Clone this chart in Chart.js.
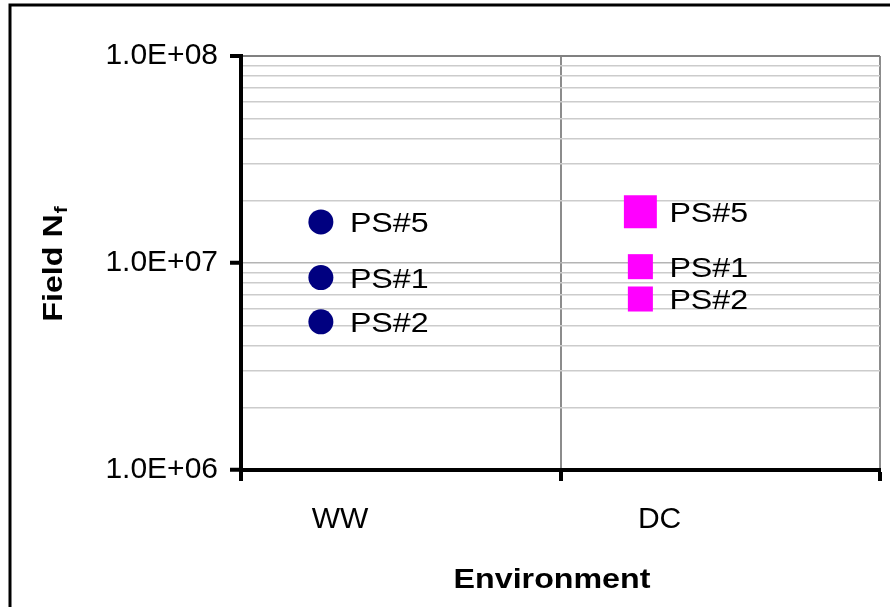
<!DOCTYPE html>
<html>
<head>
<meta charset="utf-8">
<script src="https://cdn.jsdelivr.net/npm/chart.js@4/dist/chart.umd.min.js"></script>
<style>
  html, body { margin: 0; padding: 0; background: #ffffff; }
  canvas { display: block; }
</style>
</head>
<body>
<canvas id="chart" width="890" height="607"></canvas>
<script>
// Field fatigue life per specimen in each environment
const environments = ['WW', 'DC'];
const specimens = ['PS#5', 'PS#1', 'PS#2'];
const fieldLifeWW = [1.58e7, 8.5e6, 5.2e6];
const fieldLifeDC = [1.77e7, 9.6e6, 6.7e6];
const yTickValues = [1e6, 1e7, 1e8];
const yTickLabels = ['1.0E+06', '1.0E+07', '1.0E+08'];
const xTitle = 'Environment';
const yTitle = 'Field N';
const yTitleSub = 'f';

// each environment takes one unit of the x axis
const POINT_SHIFT = 0.25;   // where the markers sit inside their unit
const LABEL_SHIFT = 0.31;   // where the environment name sits
const FONT = '"Liberation Sans", Arial, Helvetica, sans-serif';
const STRETCH = 1.15;       // wide lettering for the drawn captions

const toPoints = (values, i) => values.map(v => ({ x: i + POINT_SHIFT, y: v }));
const isWhole = v => Math.abs(v - Math.round(v)) < 1e-9;
const isDecade = v => yTickValues.some(t => Math.abs(t - v) / t < 1e-9);
const isTop = v => Math.abs(v - yTickValues[yTickValues.length - 1]) / v < 1e-9;

function wideText(ctx, text, x, y, font, align) {
  ctx.save();
  ctx.font = font;
  ctx.translate(x, y);
  ctx.scale(STRETCH, 1);
  ctx.textAlign = align;
  ctx.textBaseline = 'alphabetic';
  ctx.fillText(text, 0, 0);
  ctx.restore();
}

// frame, axis titles and the specimen captions beside each marker
const captions = {
  id: 'captions',
  afterDraw(chart) {
    const ctx = chart.ctx;
    ctx.save();
    ctx.fillStyle = '#000';

    // specimen names to the right of the markers
    chart.data.datasets.forEach((ds, di) => {
      chart.getDatasetMeta(di).data.forEach((pt, i) => {
        wideText(ctx, specimens[i], pt.x + 29, pt.y + 10, '28px ' + FONT, 'left');
      });
    });

    // x title
    wideText(ctx, xTitle, 552, 588, 'bold 28px ' + FONT, 'center');

    // y title with subscript, rotated
    ctx.save();
    ctx.translate(52, 264);
    ctx.rotate(-Math.PI / 2);
    ctx.scale(STRETCH, 1);
    ctx.font = 'bold 28px ' + FONT;
    const w1 = ctx.measureText(yTitle).width;
    ctx.font = 'bold 18px ' + FONT;
    const w2 = ctx.measureText(yTitleSub).width;
    const start = -(w1 + w2 + 1) / 2;
    ctx.textAlign = 'left';
    ctx.textBaseline = 'alphabetic';
    ctx.font = 'bold 28px ' + FONT;
    ctx.fillText(yTitle, start, 10);
    ctx.font = 'bold 18px ' + FONT;
    ctx.fillText(yTitleSub, start + w1 + 1, 15);
    ctx.restore();

    // outer frame
    ctx.lineWidth = 3;
    ctx.strokeStyle = '#000';
    ctx.strokeRect(10, 5, 1000, 1000);
    ctx.restore();
  }
};

new Chart(document.getElementById('chart'), {
  type: 'scatter',
  data: {
    datasets: [
      {
        label: environments[0],
        data: toPoints(fieldLifeWW, 0),
        pointStyle: 'circle',
        pointRadius: 12.5,
        backgroundColor: '#000080',
        borderColor: '#000080',
        borderWidth: 0
      },
      {
        label: environments[1],
        data: toPoints(fieldLifeDC, 1),
        pointStyle: 'rect',
        pointRadius: [23.3, 17.7, 17.7],
        backgroundColor: '#ff00ff',
        borderColor: '#ff00ff',
        borderWidth: 0
      }
    ]
  },
  options: {
    responsive: false,
    animation: false,
    devicePixelRatio: 1,
    events: [],
    layout: { autoPadding: false, padding: { left: 0, top: 56, right: 10, bottom: 0 } },
    plugins: {
      legend: { display: false },
      tooltip: { enabled: false }
    },
    scales: {
      x: {
        type: 'linear',
        position: 'bottom',
        min: 0,
        max: environments.length,
        afterBuildTicks(scale) {
          const t = [];
          for (let i = 0; i <= environments.length; i++) {
            t.push({ value: i });
            if (i < environments.length) t.push({ value: i + LABEL_SHIFT });
          }
          scale.ticks = t;
        },
        afterFit(scale) {
          scale.height = 137;
          scale.paddingLeft = 0;
          scale.paddingRight = 0;
        },
        ticks: {
          autoSkip: false,
          maxRotation: 0,
          minRotation: 0,
          padding: 0,
          color: '#000',
          font: { family: FONT, size: 30, lineHeight: 2.55 },
          callback: v => isWhole(v) ? '' : environments[Math.floor(v)]
        },
        grid: {
          color: c => (c.tick && isWhole(c.tick.value)) ? '#8c8c8c' : 'rgba(0,0,0,0)',
          lineWidth: 2,
          tickLength: 11,
          tickWidth: 4,
          tickColor: c => (c.tick && isWhole(c.tick.value)) ? '#000' : 'rgba(0,0,0,0)'
        },
        border: { color: '#000', width: 4 }
      },
      y: {
        type: 'logarithmic',
        min: yTickValues[0],
        max: yTickValues[yTickValues.length - 1],
        afterBuildTicks(scale) {
          const t = [];
          for (let d = 0; d < yTickValues.length - 1; d++) {
            for (let m = 1; m < 10; m++) t.push({ value: yTickValues[d] * m });
          }
          t.push({ value: yTickValues[yTickValues.length - 1] });
          scale.ticks = t;
        },
        afterFit(scale) {
          scale.width = 241;
          scale.paddingTop = 0;
          scale.paddingBottom = 0;
        },
        ticks: {
          autoSkip: false,
          padding: 12,
          color: '#000',
          font: { family: FONT, size: 30 },
          callback: v => {
            const i = yTickValues.findIndex(t => Math.abs(t - v) / t < 1e-9);
            return i >= 0 ? yTickLabels[i] : '';
          }
        },
        grid: {
          color: c => {
            if (!c.tick) return '#cccccc';
            if (isTop(c.tick.value)) return '#808080';
            return isDecade(c.tick.value) ? '#b4b4b4' : '#cccccc';
          },
          lineWidth: c => (c.tick && isTop(c.tick.value)) ? 2 : 1.5,
          tickLength: 11,
          tickWidth: 4,
          tickColor: c => (c.tick && isDecade(c.tick.value)) ? '#000' : 'rgba(0,0,0,0)'
        },
        border: { color: '#000', width: 4 }
      }
    }
  },
  plugins: [captions]
});
</script>
</body>
</html>
